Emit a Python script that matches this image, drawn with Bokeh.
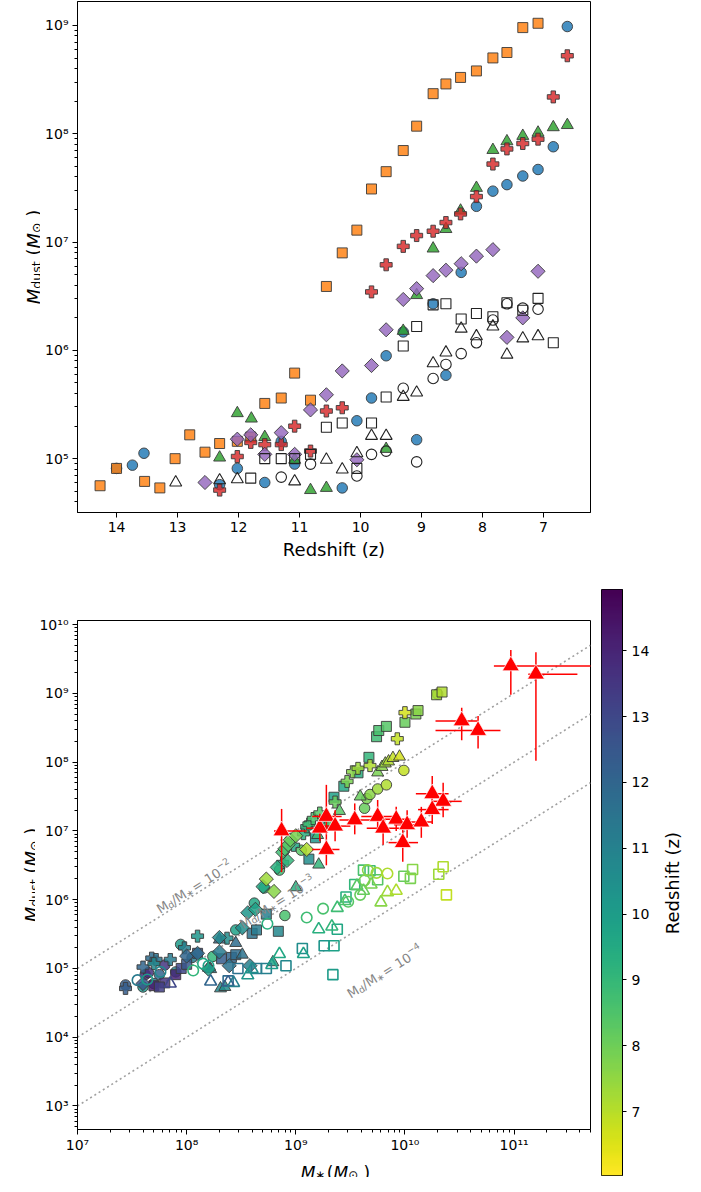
import math
import numpy as np
from bokeh.plotting import figure
from bokeh.models import (Range1d, FixedTicker, CustomJSTickFormatter, Label,
                          LinearColorMapper, ColumnDataSource, Spacer)
from bokeh.layouts import column, row
from bokeh.palettes import Viridis256
from bokeh.embed import file_html
from bokeh.resources import INLINE

FONT = "DejaVu Sans"

# ---------------- data: redshift z, log10 Mdust, log10 Mstar ----------------
sq_z = [14.27, 14.00, 13.54, 13.29, 13.04, 12.80, 12.55, 12.31, 12.02, 11.80, 11.57, 11.30, 11.08, 10.82,
        10.56, 10.30, 10.06, 9.82, 9.58, 9.30, 9.08, 8.81, 8.60, 8.36, 8.10, 7.83, 7.60, 7.34, 7.09]
sq_md = [4.75, 4.91, 4.79, 4.73, 5.00, 5.22, 5.06, 5.14, 5.16, 5.20, 5.51, 5.56, 5.79, 5.54,
         6.59, 6.90, 7.11, 7.49, 7.65, 7.845, 8.07, 8.37, 8.46, 8.52, 8.58, 8.70, 8.75, 8.98, 9.02]
sq_ms = [7.70, 7.90, 7.80, 7.75, 7.95, 8.10, 8.00, 8.32, 8.41, 8.45, 8.60, 8.64, 8.73, 8.84,
         9.12, 9.18, 9.25, 9.35, 9.44, 9.57, 9.67, 9.74, 9.76, 9.83, 10.00, 10.10, 10.12, 10.29, 10.34]

ci_z = [14.00, 13.74, 13.55, 12.31, 12.02, 11.57, 11.30, 11.08, 10.30, 10.06, 9.82, 9.58, 9.30, 9.08, 8.81,
        8.60, 8.35, 8.10, 7.83, 7.60, 7.34, 7.09, 6.84, 6.61]
ci_md = [4.91, 4.94, 5.05, 4.76, 4.91, 4.78, 5.16, 4.95, 4.73, 5.35, 5.56, 5.95, 6.17, 5.175, 6.43,
         5.77, 6.72, 7.33, 7.47, 7.53, 7.61, 7.67, 7.88, 8.99]
ci_ms = [7.62, 7.65, 7.80, 7.44, 7.75, 7.70, 8.05, 7.90, 7.60, 7.945, 8.45, 8.62, 8.71, 8.24, 8.85,
         8.90, 9.05, 9.63, 9.65, 9.68, 9.75, 9.83, 9.99, 10.30]

tr_z = [12.31, 12.02, 11.79, 11.57, 11.08, 10.82, 10.56, 9.58, 9.30, 9.08, 8.81, 8.60, 8.36, 8.10,
        7.83, 7.60, 7.34, 7.09, 6.84, 6.61]
tr_md = [5.01, 5.42, 5.37, 5.20, 4.99, 4.71, 4.73, 5.09, 6.18, 6.51, 6.94, 7.12, 7.29, 7.50,
         7.85, 7.93, 7.98, 8.01, 8.06, 8.08]
tr_ms = [8.20, 8.30, 8.45, 8.51, 8.22, 8.31, 8.35, 8.79, 9.00, 9.21, 9.20, 9.30, 9.40, 9.59,
         9.75, 9.79, 9.82, 9.85, 9.89, 9.95]

pl_z = [12.31, 12.02, 11.80, 11.57, 11.30, 11.08, 10.82, 10.56, 10.30, 9.82, 9.58, 9.30, 9.08, 8.81,
        8.60, 8.36, 8.10, 7.83, 7.60, 7.34, 7.09, 6.84, 6.61]
pl_md = [4.71, 5.02, 5.15, 5.13, 5.13, 5.30, 5.07, 5.44, 5.47, 6.54, 6.79, 6.96, 7.06, 7.10,
         7.18, 7.26, 7.42, 7.72, 7.86, 7.91, 7.95, 8.34, 8.72]
pl_ms = [7.44, 7.60, 7.68, 7.72, 7.85, 7.98, 7.70, 8.37, 8.10, 8.88, 8.98, 9.07, 9.10, 9.12,
         9.16, 9.22, 9.36, 9.47, 9.52, 9.57, 9.68, 9.93, 10.00]

di_z = [12.55, 12.02, 11.80, 11.57, 11.30, 11.08, 10.82, 10.56, 10.30, 10.06, 9.82, 9.58, 9.30, 9.08,
        8.81, 8.60, 8.35, 8.10, 7.83, 7.60, 7.34, 7.09]
di_md = [4.78, 5.18, 5.22, 5.04, 5.24, 5.04, 5.45, 5.59, 5.81, 4.99, 5.86, 6.19, 6.47, 6.57,
         6.69, 6.74, 6.80, 6.87, 6.93, 6.12, 6.30, 6.73]
di_ms = [7.60, 8.00, 8.10, 8.39, 8.30, 8.58, 8.30, 8.51, 8.56, 8.20, 8.63, 8.70, 8.83, 8.92,
         8.88, 8.90, 8.93, 8.95, 9.00, 8.80, 8.73, 9.10]

osq_z = [11.80, 11.57, 11.30, 11.08, 10.82, 10.56, 10.30, 10.06, 9.82, 9.58, 9.30, 9.08, 8.81, 8.60,
         8.35, 8.10, 7.83, 7.60, 7.34, 7.09, 6.84]
osq_md = [4.82, 5.00, 5.00, 5.00, 5.04, 5.29, 5.33, 4.91, 5.33, 5.57, 6.04, 6.22, 6.42, 6.43,
          6.29, 6.34, 6.31, 6.44, 6.37, 6.48, 6.07]
osq_ms = [8.38, 8.47, 8.64, 8.73, 8.91, 9.06, 9.26, 9.34, 9.35, 9.38, 9.46, 9.54, 9.68, 9.62,
          9.75, 9.99, 10.05, 10.07, 10.31, 10.35, 10.38]

oci_z = [11.30, 10.82, 10.06, 9.82, 9.58, 9.30, 9.08, 8.81, 8.60, 8.35, 8.10, 7.83, 7.60, 7.34, 7.09]
oci_md = [4.83, 4.95, 4.84, 5.04, 5.07, 5.65, 4.97, 5.74, 5.87, 5.97, 6.07, 6.28, 6.43, 6.39, 6.38]
oci_ms = [7.55, 7.76, 7.64, 8.20, 8.15, 8.74, 8.06, 9.10, 9.25, 9.48, 9.59, 9.63, 9.66, 9.74, 9.84]

otr_z = [13.03, 12.31, 12.02, 11.08, 10.56, 10.30, 10.06, 9.82, 9.58, 9.30, 9.08, 8.81, 8.60, 8.35,
         8.10, 7.83, 7.60, 7.34, 7.09]
otr_md = [4.78, 4.80, 4.81, 4.79, 4.99, 4.90, 5.05, 5.21, 5.21, 5.57, 5.61, 5.88, 5.98, 6.20,
          6.13, 6.22, 5.96, 6.11, 6.13]
otr_ms = [7.85, 8.38, 8.22, 8.43, 8.60, 8.56, 8.78, 9.07, 8.85, 9.21, 9.33, 9.38, 9.45, 9.56,
          9.62, 9.69, 9.78, 9.84, 9.92]

# observed galaxies (log10)
obs_ms = [8.87, 9.22, 9.28, 9.28, 9.36, 9.54, 9.75, 9.80, 9.92, 9.98, 10.02, 10.15, 10.25, 10.35,
          10.25, 10.52, 10.67, 10.97, 11.20]
obs_ms_lo = [8.80, 9.10, 9.15, 9.15, 9.25, 9.40, 9.60, 9.65, 9.80, 9.85, 9.90, 10.00, 10.10, 10.25,
             10.12, 10.28, 10.28, 10.815, 11.13]
obs_ms_hi = [9.10, 9.35, 9.42, 9.40, 9.50, 9.70, 9.90, 9.95, 10.05, 10.12, 10.15, 10.25, 10.40, 10.52,
             10.40, 10.67, 10.875, 11.80, 11.58]
obs_md = [7.00, 7.04, 7.21, 6.73, 7.07, 7.16, 7.21, 7.04, 7.17, 6.83, 7.09, 7.13, 7.54, 7.43,
          7.31, 8.60, 8.46, 9.40, 9.28]
obs_md_lo = [6.40, 6.85, 6.95, 6.50, 6.85, 6.95, 7.00, 6.80, 7.00, 6.55, 6.90, 6.90, 7.30, 7.20,
             7.10, 8.32, 8.20, 8.98, 8.02]
obs_md_hi = [7.32, 7.25, 7.67, 6.95, 7.30, 7.40, 7.45, 7.20, 7.35, 7.02, 7.30, 7.35, 7.80, 7.70,
             7.50, 8.79, 8.67, 9.63, 9.60]

ratio_levels = [1e-2, 1e-3, 1e-4]
ratio_exponents = ["\u22122", "\u22123", "\u22124"]

# ---------------- styling constants ----------------
CB_LOW, CB_HIGH = 6.03, 14.93
TOP_X = (14.64, 6.23)
TOP_Y = (10 ** 4.503, 10 ** 9.221)
BOT_X = (1e7, 10 ** 11.70)
BOT_Y = (10 ** 2.658, 10 ** 10.06)

mapper = LinearColorMapper(palette=list(reversed(Viridis256)), low=CB_LOW, high=CB_HIGH)

# drawing order: circles first, then squares, triangles, pluses, diamonds, open markers
series = [
    dict(z=ci_z, md=ci_md, ms=ci_ms, marker="circle", size=10.5, angle=0.0, color="#1f77b4", filled=True),
    dict(z=sq_z, md=sq_md, ms=sq_ms, marker="square", size=10, angle=0.0, color="#ff7f0e", filled=True),
    dict(z=tr_z, md=tr_md, ms=tr_ms, marker="triangle", size=12, angle=0.0, color="#2ca02c", filled=True),
    dict(z=pl_z, md=pl_md, ms=pl_ms, marker="plus", size=12, angle=0.0, color="#d62728", filled=True),
    dict(z=di_z, md=di_md, ms=di_ms, marker="square", size=10, angle=math.pi / 4, color="#9467bd", filled=True),
    dict(z=osq_z, md=osq_md, ms=osq_ms, marker="square", size=10, angle=0.0, color="#222222", filled=False),
    dict(z=oci_z, md=oci_md, ms=oci_ms, marker="circle", size=10.5, angle=0.0, color="#222222", filled=False),
    dict(z=otr_z, md=otr_md, ms=otr_ms, marker="triangle", size=12, angle=0.0, color="#222222", filled=False),
]

SUP = """
const m = {"0":"\u2070","1":"\u00b9","2":"\u00b2","3":"\u00b3","4":"\u2074","5":"\u2075",
           "6":"\u2076","7":"\u2077","8":"\u2078","9":"\u2079","-":"\u207b"};
const e = Math.round(Math.log10(tick));
return "10" + String(e).split("").map(c => m[c]).join("");
"""

CW = {'M': 0.863, 'd': 0.635, 'u': 0.634, 's': 0.521, 't': 0.392, ' ': 0.318, '(': 0.390, ')': 0.390,
      '\u2299': 0.838, '\u2217': 0.500, '/': 0.337, '=': 0.838, '1': 0.636, '0': 0.636, '2': 0.636,
      '3': 0.636, '4': 0.636, '\u2212': 0.838, 'R': 0.695, 'e': 0.615, 'h': 0.634, 'i': 0.278,
      'f': 0.352, 'z': 0.525}


def tw(s, size):
    return sum(CW.get(c, 0.6) for c in s) * size


def label_kw(t, s, style, angle, color):
    return dict(text=t, angle=angle, text_font=FONT, text_font_size=f"{s}px",
                text_color=color, text_font_style=style,
                text_align="left", text_baseline="alphabetic")


def layout_pieces(pieces):
    """yield (visible_text, size, rise, style, advance_before_text)."""
    a = 0.0
    for t, s, rise, style in pieces:
        lead = len(t) - len(t.lstrip(" "))
        vis = t.strip(" ")
        if vis:
            yield vis, s, rise, style, a + tw(" " * lead, s)
        a += tw(t, s)


def rich_offset(fig, pieces, x, y, angle, color):
    """pieces laid along a rotated baseline, anchored at data point (x, y), offsets in px."""
    ux, uy = math.cos(angle), math.sin(angle)
    nx, ny = -math.sin(angle), math.cos(angle)
    for vis, s, rise, style, a in layout_pieces(pieces):
        fig.add_layout(Label(x=x, y=y, x_offset=a * ux + rise * nx, y_offset=a * uy + rise * ny,
                             **label_kw(vis, s, style, angle, color)))


def rich_px(fig, pieces, x, y, angle, color="black"):
    """pieces centred at (x, y) in a pixel-valued data space (y up)."""
    total = sum(tw(t, s) for t, s, _, _ in pieces)
    ux, uy = math.cos(angle), math.sin(angle)
    nx, ny = -math.sin(angle), math.cos(angle)
    for vis, s, rise, style, a in layout_pieces(pieces):
        a -= total / 2
        fig.add_layout(Label(x=x + a * ux + rise * nx, y=y + a * uy + rise * ny,
                             **label_kw(vis, s, style, angle, color)))


def style_axes(p):
    p.grid.visible = False
    p.outline_line_color = "black"
    p.outline_line_width = 1
    p.outline_line_alpha = 1
    p.background_fill_color = "white"
    p.border_fill_color = "white"
    for ax in p.axis:
        ax.axis_line_color = "black"
        ax.major_tick_line_color = "black"
        ax.minor_tick_line_color = "black"
        ax.major_tick_out = 5
        ax.major_tick_in = 0
        ax.minor_tick_out = 3
        ax.minor_tick_in = 0
        ax.major_label_text_font = FONT
        ax.major_label_text_font_size = "14px"
        ax.major_label_text_color = "black"
        ax.major_label_standoff = 4
        ax.axis_label_text_font = FONT
        ax.axis_label_text_font_size = "18px"
        ax.axis_label_text_font_style = "normal"
        ax.axis_label_text_color = "black"


def log_ticker(lo_e, hi_e):
    majors = [10.0 ** e for e in range(lo_e, hi_e + 1)]
    minors = [k * 10.0 ** e for e in range(lo_e - 1, hi_e + 1) for k in range(2, 10)]
    return FixedTicker(ticks=majors, minor_ticks=minors)


def text_box(w, h, top, bottom, left=0, right=0):
    f = figure(frame_width=w, frame_height=h, x_range=Range1d(0, w), y_range=Range1d(0, h),
               x_axis_location=None, y_axis_location=None, output_backend="svg", toolbar_location=None,
               min_border_left=left, min_border_right=right, min_border_top=top, min_border_bottom=bottom)
    f.grid.visible = False
    f.outline_line_color = None
    f.background_fill_color = "white"
    f.border_fill_color = "white"
    return f


ylab_pieces = [("M", 18, 0, "italic"), ("dust", 12.6, -3.4, "normal"), (" (", 18, 0, "normal"),
               ("M", 18, 0, "italic"), ("\u2299", 12.6, -3.0, "normal"), (" )", 18, 0, "normal")]
xlab_pieces = [("M", 17, 0, "italic"), ("\u2217", 11.9, -2.0, "normal"), (" (", 17, 0, "normal"),
               ("M", 17, 0, "italic"), ("\u2299", 11.9, -2.0, "normal"), (" )", 17, 0, "normal")]

# ---------------- top panel ----------------
p1 = figure(frame_width=513, frame_height=511, x_range=Range1d(*TOP_X), y_range=Range1d(*TOP_Y),
            y_axis_type="log", output_backend="svg", toolbar_location=None,
            min_border_left=37, min_border_right=8, min_border_top=1, min_border_bottom=54)
style_axes(p1)
p1.xaxis.ticker = FixedTicker(ticks=[7, 8, 9, 10, 11, 12, 13, 14], minor_ticks=[])
p1.xaxis.axis_label = "Redshift (z)"
p1.xaxis.axis_label_standoff = 4
p1.yaxis.ticker = log_ticker(4, 9)
p1.yaxis.formatter = CustomJSTickFormatter(code=SUP)

for s in series:
    src = ColumnDataSource(dict(z=s["z"], md=10.0 ** np.array(s["md"])))
    if s["filled"]:
        p1.scatter(x="z", y="md", source=src, marker=s["marker"], size=s["size"], angle=s["angle"],
                   fill_color=s["color"], fill_alpha=0.82, line_color="#3a3a3a", line_width=0.9)
    else:
        p1.scatter(x="z", y="md", source=src, marker=s["marker"], size=s["size"], angle=s["angle"],
                   fill_color=None, line_color=s["color"], line_width=1.1)

yl1 = text_box(40, 511, top=1, bottom=54)
rich_px(yl1, ylab_pieces, 33, 255.5, math.pi / 2)

# ---------------- bottom panel ----------------
p2 = figure(frame_width=513, frame_height=509, x_range=Range1d(*BOT_X), y_range=Range1d(*BOT_Y),
            x_axis_type="log", y_axis_type="log", output_backend="svg", toolbar_location=None,
            min_border_left=42, min_border_right=8, min_border_top=54, min_border_bottom=25)
style_axes(p2)
p2.xaxis.ticker = log_ticker(7, 11)
p2.xaxis.formatter = CustomJSTickFormatter(code=SUP)
p2.xaxis.major_label_standoff = 2
p2.yaxis.ticker = log_ticker(3, 10)
p2.yaxis.formatter = CustomJSTickFormatter(code=SUP)

xs_line = np.array(BOT_X)
for r in ratio_levels:
    p2.line(x=xs_line, y=xs_line * r, line_color="#a0a0a0", line_width=1.6, line_dash="2 3")

for s in series:
    src = ColumnDataSource(dict(z=s["z"], md=10.0 ** np.array(s["md"]), ms=10.0 ** np.array(s["ms"])))
    if s["filled"]:
        p2.scatter(x="ms", y="md", source=src, marker=s["marker"], size=s["size"], angle=s["angle"],
                   fill_color={"field": "z", "transform": mapper}, fill_alpha=0.85,
                   line_color="#3a3a3a", line_width=0.9)
    else:
        p2.scatter(x="ms", y="md", source=src, marker=s["marker"], size=s["size"], angle=s["angle"],
                   fill_color=None, line_color={"field": "z", "transform": mapper}, line_width=1.6)

obs = ColumnDataSource(dict(
    ms=10.0 ** np.array(obs_ms), md=10.0 ** np.array(obs_md),
    ms_lo=10.0 ** np.array(obs_ms_lo), ms_hi=10.0 ** np.array(obs_ms_hi),
    md_lo=10.0 ** np.array(obs_md_lo), md_hi=10.0 ** np.array(obs_md_hi)))
p2.segment(x0="ms_lo", y0="md", x1="ms_hi", y1="md", source=obs, line_color="red", line_width=1.5)
p2.segment(x0="ms", y0="md_lo", x1="ms", y1="md_hi", source=obs, line_color="red", line_width=1.5)
p2.scatter(x="ms", y="md", source=obs, marker="triangle", size=17, fill_color="red",
           line_color="white", line_width=0.7)

label_anchor = [(7.736, 5.847), (8.497, 5.626), (9.482, 4.616)]
ang = math.radians(32)
for (lx, ly), ex in zip(label_anchor, ratio_exponents):
    pieces = [("M", 13, 0, "normal"), ("d", 9.1, -2.6, "normal"), ("/M", 13, 0, "normal"),
              ("\u2217", 9.1, -2.6, "normal"), (" = 10", 13, 0, "normal"), (ex, 9.1, 5.6, "normal")]
    rich_offset(p2, pieces, 10 ** lx, 10 ** ly, ang, "#858585")

yl2 = text_box(35, 509, top=54, bottom=25)
rich_px(yl2, ylab_pieces, 31, 254.5, math.pi / 2)

xl2 = text_box(513, 22, top=0, bottom=0, left=77, right=8)
rich_px(xl2, xlab_pieces, 258, 5.0, 0.0)

# ---------------- colorbar ----------------
pc = figure(frame_width=21, frame_height=586, x_range=Range1d(0, 1), y_range=Range1d(CB_LOW, CB_HIGH),
            x_axis_location=None, y_axis_location="right", output_backend="svg", toolbar_location=None,
            min_border_left=3, min_border_right=30, min_border_top=11, min_border_bottom=1)
style_axes(pc)
pc.yaxis.ticker = FixedTicker(ticks=[7, 8, 9, 10, 11, 12, 13, 14], minor_ticks=[])
pc.yaxis.major_tick_out = 4
pc.yaxis.major_label_standoff = 5
grad = np.linspace(CB_LOW, CB_HIGH, 300).reshape(300, 1)
pc.image(image=[grad], x=0, y=CB_LOW, dw=1, dh=CB_HIGH - CB_LOW, color_mapper=mapper)

cbl = text_box(30, 586, top=11, bottom=1)
rich_px(cbl, [("Redshift (z)", 18, 0, "normal")], 20, 293, math.pi / 2)

left_col = column(row(yl1, p1), row(yl2, p2), xl2)
right_col = column(Spacer(width=84, height=578), row(pc, cbl))
layout = row(left_col, right_col)
open("out.html", "w").write(file_html(layout, INLINE))
